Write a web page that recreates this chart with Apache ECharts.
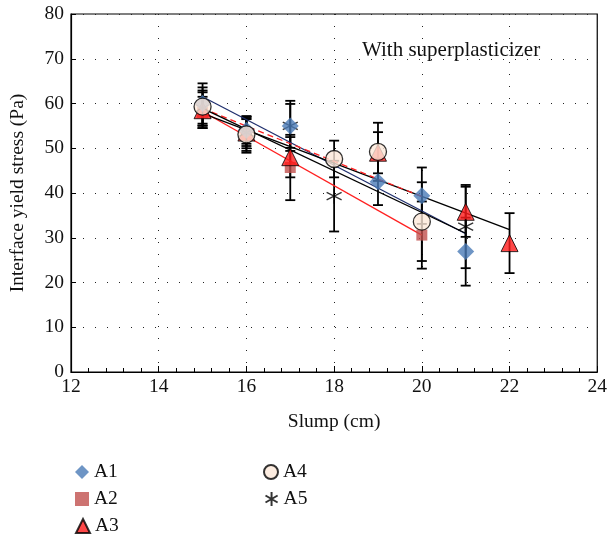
<!DOCTYPE html>
<html lang="en">
<head>
  <meta charset="UTF-8">
  <title>Interface yield stress vs slump</title>
  <style>
    body { margin: 0; background: #fff; }
    #chart { width: 610px; height: 539px; }
  </style>
  <script src="https://cdn.jsdelivr.net/npm/echarts@6/dist/echarts.min.js"></script>
</head>
<body>
  <div id="chart"></div>
  <script>
    // ---------------------- data ---------------------------------------------
    const slumpA1 = [15, 16, 17, 19, 20, 21];
    const stressA1 = [60, 54, 55, 42.5, 39.4, 26.9];
    const errA1 = [4.5, 3, 5.6, 5.2, 6.3, 7.6];

    const slumpA2 = [15, 16, 17, 20];
    const stressA2 = [58, 53, 45.7, 30.6];
    const errA2 = [3.5, 3.6, 7.3, 7.5];

    const slumpA3 = [15, 16, 17, 19, 21, 22];
    const stressA3 = [58.5, 53.5, 48, 49, 35.8, 28.8];
    const errA3 = [4, 3.5, 4.5, 4.6, 5.6, 6.7];

    const slumpA4 = [15, 16, 18, 19, 20];
    const stressA4 = [59.3, 53.1, 47.6, 49.2, 33.6];
    const errA4 = [4.3, 4.1, 4.1, 6.5, 8.8];

    const slumpA5 = [15, 16, 17, 18, 21];
    const stressA5 = [59, 53.5, 55, 39.3, 32.5];
    const errA5 = [3.9, 3, 4.9, 7.9, 9.3];

    // linear fits, end points as drawn
    const fitA1 = [[15, 61.5], [21, 30.9]];
    const fitA2 = [[15, 58.2], [20, 30.6]];
    const fitA3 = [[15, 57.8], [22, 31.8]];
    const fitA4 = [[15, 58.9], [20, 39.2]];
    const fitA5 = [[15, 58.9], [21, 31.0]];

    const font = 'Liberation Serif';
    const fs = 19.5;

    const groups = [
      { name: 'A1', x: slumpA1, y: stressA1, e: errA1, fit: fitA1,
        symbol: 'diamond', size: 17, item: { color: '#4a7bb7' },
        line: { color: '#1f2f6e', width: 1.3, type: 'solid' }, z: 8,
        leg: { left: 75, top: 462 } },
      { name: 'A2', x: slumpA2, y: stressA2, e: errA2, fit: fitA2,
        symbol: 'rect', size: 11, item: { color: '#c0504d' },
        line: { color: '#ff2020', width: 1.3, type: 'solid' }, z: 5,
        leg: { left: 75, top: 489 } },
      { name: 'A3', x: slumpA3, y: stressA3, e: errA3, fit: fitA3,
        symbol: 'triangle', size: 17, item: { color: '#ff1a1a', borderColor: '#000', borderWidth: 1 },
        line: { color: '#000', width: 1.3, type: 'solid' }, z: 6,
        leg: { left: 75, top: 516 } },
      { name: 'A4', x: slumpA4, y: stressA4, e: errA4, fit: fitA4,
        symbol: 'circle', size: 17, item: { color: '#fde9d9', borderColor: '#000', borderWidth: 1.3 },
        line: { color: '#ff2020', width: 1.3, type: [6, 4] }, z: 9,
        leg: { left: 263, top: 462 } },
      { name: 'A5', x: slumpA5, y: stressA5, e: errA5, fit: fitA5,
        symbol: 'path://M0,-10L0,10M-8.66,-5L8.66,5M-8.66,5L8.66,-5', size: 15,
        item: { color: 'none', borderColor: '#000', borderWidth: 1.3 },
        line: { color: '#000', width: 1.3, type: 'solid' }, z: 7,
        leg: { left: 263, top: 489 } }
    ];

    function renderErr(params, api) {
      const x = api.value(0);
      const lo = api.coord([x, api.value(1)]);
      const hi = api.coord([x, api.value(2)]);
      const w = 5;
      const style = { stroke: '#000', lineWidth: 1.8 };
      return {
        type: 'group',
        children: [
          { type: 'line', shape: { x1: lo[0], y1: lo[1], x2: hi[0], y2: hi[1] }, style: style },
          { type: 'line', shape: { x1: lo[0] - w, y1: lo[1], x2: lo[0] + w, y2: lo[1] }, style: style },
          { type: 'line', shape: { x1: hi[0] - w, y1: hi[1], x2: hi[0] + w, y2: hi[1] }, style: style }
        ]
      };
    }

    const series = [];
    groups.forEach(g => {
      series.push({
        name: g.name + ' err',
        type: 'custom',
        renderItem: renderErr,
        data: g.x.map((x, i) => [x, g.y[i] - g.e[i], g.y[i] + g.e[i]]),
        encode: { x: 0, y: [1, 2] },
        silent: true,
        z: 2
      });
    });
    groups.forEach(g => {
      series.push({
        name: g.name + ' fit',
        type: 'line',
        data: g.fit,
        symbol: 'none',
        lineStyle: g.line,
        silent: true,
        z: 3
      });
    });
    groups.forEach(g => {
      series.push({
        name: g.name,
        type: 'scatter',
        data: g.x.map((x, i) => [x, g.y[i]]),
        symbol: g.symbol,
        symbolSize: g.size,
        itemStyle: g.item,
        z: g.z
      });
    });

    const legends = groups.map(g => ({
      data: [g.name], left: g.leg.left, top: g.leg.top,
      itemWidth: 14, itemHeight: 14, itemGap: 0, padding: 0,
      textStyle: { fontFamily: font, fontSize: fs, color: '#111' }
    }));

    const gridDots = { show: true, lineStyle: { color: '#222', width: 1, type: [1, 11] } };

    const chart = echarts.init(document.getElementById('chart'));
    chart.setOption({
      animation: false,
      grid: { left: 71, right: 10, top: 14, bottom: 167, show: true, borderColor: '#000', borderWidth: 1.2 },
      graphic: [{
        type: 'text', left: 362, top: 40,
        style: { text: 'With superplasticizer', font: '21px "Liberation Serif"', fill: '#111' }
      }],
      legend: legends,
      xAxis: {
        type: 'value', min: 12, max: 24, interval: 2,
        name: 'Slump (cm)', nameLocation: 'middle', nameGap: 40,
        nameTextStyle: { fontFamily: font, fontSize: fs, color: '#111' },
        axisLine: { lineStyle: { color: '#000', width: 1.2 } },
        axisTick: { inside: true, length: 6, lineStyle: { color: '#000' } },
        minorTick: { show: true, splitNumber: 5, length: 4, lineStyle: { color: '#000' } },
        axisLabel: { fontFamily: font, fontSize: fs, color: '#111', margin: 5 },
        splitLine: gridDots
      },
      yAxis: {
        type: 'value', min: 0, max: 80, interval: 10,
        name: 'Interface yield stress (Pa)', nameLocation: 'middle', nameGap: 43,
        nameTextStyle: { fontFamily: font, fontSize: fs, color: '#111' },
        axisLine: { show: true, lineStyle: { color: '#000', width: 1.2 } },
        axisTick: { show: true, inside: true, length: 5, lineStyle: { color: '#000' } },
        axisLabel: { fontFamily: font, fontSize: fs, color: '#111', margin: 7 },
        splitLine: gridDots
      },
      series: series
    });
  </script>
</body>
</html>
